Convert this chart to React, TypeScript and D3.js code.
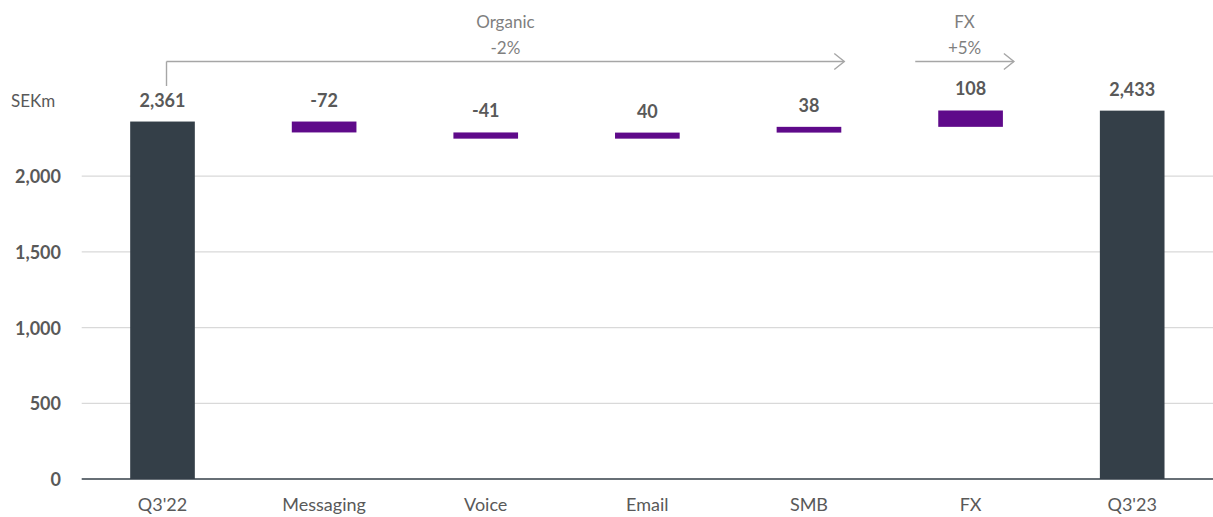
import * as React from 'react'
import * as d3 from 'd3'

// waterfall: start, deltas, end
const categories = ["Q3'22", 'Messaging', 'Voice', 'Email', 'SMB', 'FX', "Q3'23"]
const kinds = ['total', 'delta', 'delta', 'delta', 'delta', 'delta', 'total']
const values = [2361, -72, -41, 40, 38, 108, 2433]
const yTicks = [0, 500, 1000, 1500, 2000]

const annotations = [
    { title: 'Organic', change: '-2%', from: "Q3'22", to: 'SMB' },
    { title: 'FX', change: '+5%', from: 'FX', to: 'FX' },
]

const DARK = '#343f48'
const PURPLE = '#5f0a8a'
const TEXT = '#595959'
const NOTE = '#7f7f7f'
const FONT = 'Lato, "Open Sans", sans-serif'

export default function App() {
    const WIDTH = 1213
    const HEIGHT = 517
    const left = 81.7
    const right = 1213
    const zeroY = 479
    const topY = 100.5

    const x = d3.scaleBand().domain(categories).range([left, right]).paddingInner(0.6).paddingOuter(0.3)
    const y = d3.scaleLinear().domain([0, 2500]).range([zeroY, topY])

    // running totals for floating bars
    let running = 0
    const bars = categories.map((c, i) => {
        let lo: number, hi: number
        if (kinds[i] === 'total') {
            lo = 0
            hi = values[i]
            running = values[i]
        } else {
            const next = running + values[i]
            lo = Math.min(running, next)
            hi = Math.max(running, next)
            running = next
        }
        return { cat: c, lo, hi, value: values[i], kind: kinds[i] }
    })

    const fmt = (v: number) => d3.format(',')(v).replace('\u2212', '-')
    const bw = x.bandwidth()

    return <svg width={WIDTH} height={HEIGHT} style={{ position: 'absolute', left: 0, top: 0 }} viewBox={`0 0 ${WIDTH} ${HEIGHT}`}>
        <g fontFamily={FONT}>
            {yTicks.filter(t => t > 0).map(t =>
                <line key={t} x1={left} x2={right} y1={y(t)} y2={y(t)} stroke="#d9d9d9" strokeWidth={1.3} />
            )}
            {yTicks.map(t =>
                <text key={t} x={61} y={y(t)} textAnchor="end" dominantBaseline="central" fontSize={18} fontWeight="bold" fill={TEXT}>{fmt(t)}</text>
            )}
            <text x={11} y={107} fontSize={17} fill={TEXT}>SEKm</text>

            {bars.map(b =>
                <rect key={b.cat}
                    x={x(b.cat)}
                    width={bw}
                    y={y(b.hi)}
                    height={Math.max(1, y(b.lo) - y(b.hi))}
                    fill={b.kind === 'total' ? DARK : PURPLE}
                />
            )}
            <line x1={left} x2={right} y1={zeroY} y2={zeroY} stroke={DARK} strokeWidth={1.6} />

            {bars.map(b =>
                <text key={b.cat} x={(x(b.cat) as number) + bw / 2} y={y(b.hi) - 15} textAnchor="middle" fontSize={18} fontWeight="bold" fill={TEXT}>{fmt(b.value)}</text>
            )}
            {categories.map(c =>
                <text key={c} x={(x(c) as number) + bw / 2} y={511} textAnchor="middle" fontSize={18} fill={TEXT}>{c}</text>
            )}

            {annotations.map((a, i) => {
                const startX = i === 0 ? (x(a.from) as number) + bw / 2 + 4 : (x(a.from) as number) - 23
                const endX = i === 0 ? (x(a.to) as number) + bw + 3 : (x(a.to) as number) + bw + 11
                const ay = 61.5
                const mid = (startX + endX) / 2
                return <g key={a.title} stroke="#a6a6a6" strokeWidth={1.4} fill="none">
                    {i === 0 && <line x1={startX} x2={startX} y1={ay} y2={86} />}
                    <line x1={startX} x2={endX} y1={ay} y2={ay} />
                    <polyline points={`${endX - 10},${ay - 8} ${endX},${ay} ${endX - 10},${ay + 8}`} />
                    <text x={mid} y={28} textAnchor="middle" fontSize={17} fill={NOTE} stroke="none">{a.title}</text>
                    <text x={mid} y={54} textAnchor="middle" fontSize={17} fill={NOTE} stroke="none">{a.change}</text>
                </g>
            })}
        </g>
    </svg>
}
